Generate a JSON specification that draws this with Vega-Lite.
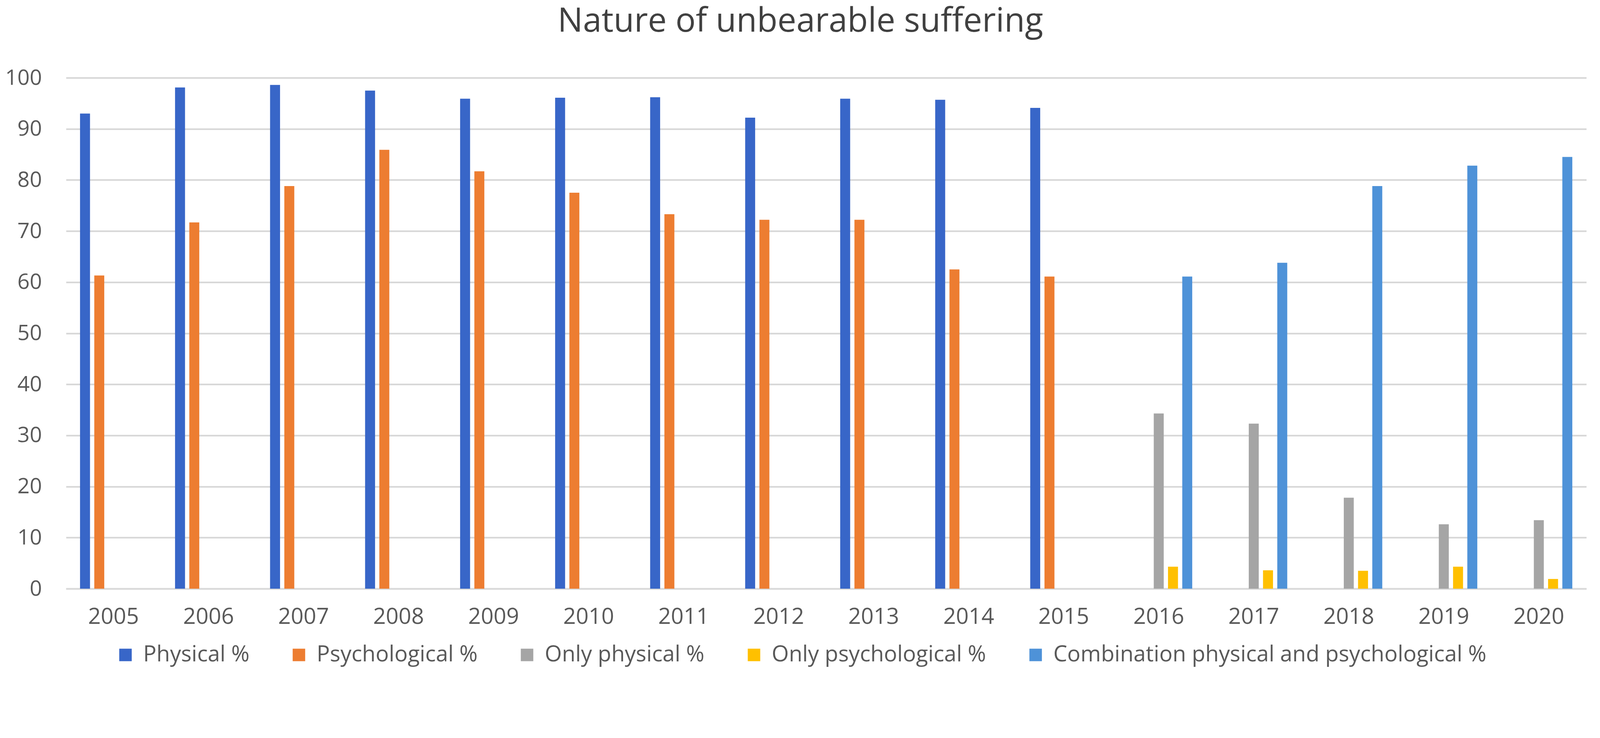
{
  "$schema": "https://vega.github.io/schema/vega-lite/v6.json",
  "description": "Nature of unbearable suffering, grouped bars by year",
  "width": 3892,
  "height": 1307,
  "autosize": {"type": "none"},
  "padding": {"left": 169, "top": 199, "right": 23, "bottom": 280},
  "background": "white",
  "title": {
    "text": "Nature of unbearable suffering",
    "fontSize": 86,
    "fontWeight": "normal",
    "color": "#404040",
    "anchor": "middle",
    "baseline": "alphabetic",
    "offset": 5,
    "dx": -66
  },
  "data": {
    "values": [
      {"year": "2005", "series": "Physical %", "value": 93.0},
      {"year": "2005", "series": "Psychological %", "value": 61.3},
      {"year": "2006", "series": "Physical %", "value": 98.1},
      {"year": "2006", "series": "Psychological %", "value": 71.7},
      {"year": "2007", "series": "Physical %", "value": 98.6},
      {"year": "2007", "series": "Psychological %", "value": 78.8},
      {"year": "2008", "series": "Physical %", "value": 97.5},
      {"year": "2008", "series": "Psychological %", "value": 85.9},
      {"year": "2009", "series": "Physical %", "value": 95.9},
      {"year": "2009", "series": "Psychological %", "value": 81.7},
      {"year": "2010", "series": "Physical %", "value": 96.1},
      {"year": "2010", "series": "Psychological %", "value": 77.5},
      {"year": "2011", "series": "Physical %", "value": 96.2},
      {"year": "2011", "series": "Psychological %", "value": 73.3},
      {"year": "2012", "series": "Physical %", "value": 92.2},
      {"year": "2012", "series": "Psychological %", "value": 72.2},
      {"year": "2013", "series": "Physical %", "value": 95.9},
      {"year": "2013", "series": "Psychological %", "value": 72.2},
      {"year": "2014", "series": "Physical %", "value": 95.7},
      {"year": "2014", "series": "Psychological %", "value": 62.5},
      {"year": "2015", "series": "Physical %", "value": 94.1},
      {"year": "2015", "series": "Psychological %", "value": 61.1},
      {"year": "2016", "series": "Only physical %", "value": 34.3},
      {"year": "2016", "series": "Only psychological %", "value": 4.3},
      {"year": "2016", "series": "Combination physical and psychological %", "value": 61.1},
      {"year": "2017", "series": "Only physical %", "value": 32.3},
      {"year": "2017", "series": "Only psychological %", "value": 3.6},
      {"year": "2017", "series": "Combination physical and psychological %", "value": 63.8},
      {"year": "2018", "series": "Only physical %", "value": 17.8},
      {"year": "2018", "series": "Only psychological %", "value": 3.5},
      {"year": "2018", "series": "Combination physical and psychological %", "value": 78.8},
      {"year": "2019", "series": "Only physical %", "value": 12.6},
      {"year": "2019", "series": "Only psychological %", "value": 4.3},
      {"year": "2019", "series": "Combination physical and psychological %", "value": 82.8},
      {"year": "2020", "series": "Only physical %", "value": 13.4},
      {"year": "2020", "series": "Only psychological %", "value": 1.9},
      {"year": "2020", "series": "Combination physical and psychological %", "value": 84.5}
    ]
  },
  "mark": {"type": "bar"},
  "encoding": {
    "x": {
      "field": "year",
      "type": "nominal",
      "scale": {"paddingInner": 0.25, "paddingOuter": 0.125},
      "axis": {
        "title": null,
        "labelAngle": 0,
        "ticks": false,
        "domainColor": "#d9d9d9",
        "domainWidth": 3.8,
        "labelPadding": 44,
        "labelFontSize": 57
      }
    },
    "y": {
      "field": "value",
      "type": "quantitative",
      "scale": {"domain": [0, 100]},
      "axis": {
        "title": null,
        "values": [0, 10, 20, 30, 40, 50, 60, 70, 80, 90, 100],
        "domain": false,
        "ticks": false,
        "labelPadding": 62,
        "labelFontSize": 55,
        "gridColor": "#d6d6d6",
        "gridWidth": 3.8
      }
    },
    "xOffset": {
      "field": "series",
      "type": "nominal",
      "scale": {
        "domain": ["Physical %", "Psychological %", "Only physical %", "Only psychological %", "Combination physical and psychological %"],
        "paddingInner": 0.3,
        "paddingOuter": 0.15
      }
    },
    "color": {
      "field": "series",
      "type": "nominal",
      "scale": {
        "domain": ["Physical %", "Psychological %", "Only physical %", "Only psychological %", "Combination physical and psychological %"],
        "range": ["#3866c8", "#ed7d31", "#a5a5a5", "#ffc000", "#4e92d8"]
      },
      "legend": {
        "title": null,
        "orient": "none",
        "legendX": 124,
        "legendY": 1448,
        "direction": "horizontal",
        "columns": 5,
        "symbolType": "square",
        "symbolSize": 1024,
        "symbolStrokeWidth": 0,
        "labelFontSize": 56.5,
        "labelColor": "#595959",
        "labelOffset": 17,
        "labelLimit": 3000,
        "columnPadding": 98,
        "padding": 0
      }
    }
  },
  "config": {
    "font": "Open Sans",
    "view": {"stroke": null},
    "axis": {"labelColor": "#595959", "labelFont": "Open Sans"},
    "legend": {"labelFont": "Open Sans"}
  }
}
